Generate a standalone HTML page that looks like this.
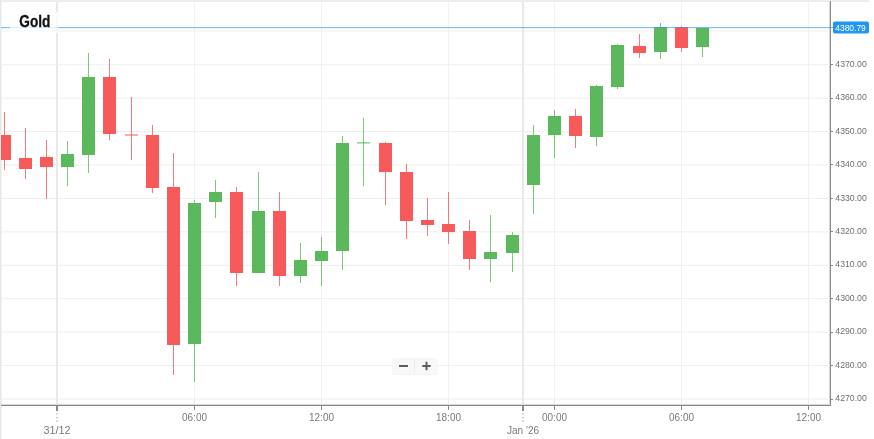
<!DOCTYPE html>
<html><head><meta charset="utf-8"><style>
html,body{margin:0;padding:0;background:#fff;width:874px;height:439px;overflow:hidden}
svg{display:block;font-family:"Liberation Sans", sans-serif}
text{filter:grayscale(1)}
</style></head><body>
<svg width="874" height="439" viewBox="0 0 874 439">
<rect x="0" y="0" width="874" height="439" fill="#fff"/>
<rect x="0" y="0" width="869" height="1" fill="#efefef"/>
<rect x="0" y="1" width="869" height="1" fill="#ececec"/>
<rect x="0" y="0" width="1" height="439" fill="#e8e8e8"/>
<rect x="1" y="2" width="1" height="437" fill="#f1f1f1"/>

<rect x="2" y="30.40" width="826.5" height="1" fill="#eeeeee"/>
<rect x="2" y="64.20" width="826.5" height="1" fill="#eeeeee"/>
<rect x="2" y="97.63" width="826.5" height="1" fill="#eeeeee"/>
<rect x="2" y="131.06" width="826.5" height="1" fill="#eeeeee"/>
<rect x="2" y="164.49" width="826.5" height="1" fill="#eeeeee"/>
<rect x="2" y="197.92" width="826.5" height="1" fill="#eeeeee"/>
<rect x="2" y="231.35" width="826.5" height="1" fill="#eeeeee"/>
<rect x="2" y="264.78" width="826.5" height="1" fill="#eeeeee"/>
<rect x="2" y="298.21" width="826.5" height="1" fill="#eeeeee"/>
<rect x="2" y="331.64" width="826.5" height="1" fill="#eeeeee"/>
<rect x="2" y="365.07" width="826.5" height="1" fill="#eeeeee"/>
<rect x="2" y="398.50" width="826.5" height="1" fill="#eeeeee"/>
<rect x="194" y="2" width="1" height="403" fill="#f1f1f1"/>
<rect x="321" y="2" width="1" height="403" fill="#f1f1f1"/>
<rect x="448" y="2" width="1" height="403" fill="#f1f1f1"/>
<rect x="554" y="2" width="1" height="403" fill="#f1f1f1"/>
<rect x="681" y="2" width="1" height="403" fill="#f1f1f1"/>
<rect x="808" y="2" width="1" height="403" fill="#f1f1f1"/>
<rect x="56" y="2" width="2" height="403" fill="#e9e9e9"/>
<rect x="522" y="2" width="2" height="403" fill="#e9e9e9"/>
<defs><clipPath id="pc"><rect x="1" y="2" width="829" height="403"/></clipPath></defs><g clip-path="url(#pc)">
<rect x="4" y="112" width="1" height="58" fill="#f65a5a" fill-opacity="0.8"/>
<rect x="-2" y="135" width="13" height="25" fill="#f65a5a"/>
<rect x="25" y="128" width="1" height="51" fill="#f65a5a" fill-opacity="0.8"/>
<rect x="19" y="158" width="13" height="11" fill="#f65a5a"/>
<rect x="46" y="140" width="1" height="59" fill="#f65a5a" fill-opacity="0.8"/>
<rect x="40" y="157" width="13" height="10" fill="#f65a5a"/>
<rect x="67" y="141" width="1" height="45" fill="#5cb85c" fill-opacity="0.8"/>
<rect x="61" y="154" width="13" height="13" fill="#5cb85c"/>
<rect x="88" y="53" width="1" height="120" fill="#5cb85c" fill-opacity="0.8"/>
<rect x="82" y="77" width="13" height="78" fill="#5cb85c"/>
<rect x="109" y="59" width="1" height="81" fill="#f65a5a" fill-opacity="0.8"/>
<rect x="103" y="77" width="13" height="57" fill="#f65a5a"/>
<rect x="131" y="97" width="1" height="63" fill="#f65a5a" fill-opacity="0.8"/>
<rect x="125" y="134.50" width="13" height="1" fill="#f65a5a"/>
<rect x="152" y="125" width="1" height="68" fill="#f65a5a" fill-opacity="0.8"/>
<rect x="146" y="135" width="13" height="53" fill="#f65a5a"/>
<rect x="173" y="153" width="1" height="222" fill="#f65a5a" fill-opacity="0.8"/>
<rect x="167" y="187" width="13" height="158" fill="#f65a5a"/>
<rect x="194" y="200" width="1" height="182" fill="#5cb85c" fill-opacity="0.8"/>
<rect x="188" y="203" width="13" height="141" fill="#5cb85c"/>
<rect x="215" y="180" width="1" height="38" fill="#5cb85c" fill-opacity="0.8"/>
<rect x="209" y="192" width="13" height="10" fill="#5cb85c"/>
<rect x="236" y="187" width="1" height="99" fill="#f65a5a" fill-opacity="0.8"/>
<rect x="230" y="192" width="13" height="81" fill="#f65a5a"/>
<rect x="258" y="172" width="1" height="101" fill="#5cb85c" fill-opacity="0.8"/>
<rect x="252" y="211" width="13" height="62" fill="#5cb85c"/>
<rect x="279" y="192" width="1" height="94" fill="#f65a5a" fill-opacity="0.8"/>
<rect x="273" y="211" width="13" height="65" fill="#f65a5a"/>
<rect x="300" y="243" width="1" height="40" fill="#5cb85c" fill-opacity="0.8"/>
<rect x="294" y="260" width="13" height="16" fill="#5cb85c"/>
<rect x="321" y="237" width="1" height="49" fill="#5cb85c" fill-opacity="0.8"/>
<rect x="315" y="251" width="13" height="10" fill="#5cb85c"/>
<rect x="342" y="136" width="1" height="134" fill="#5cb85c" fill-opacity="0.8"/>
<rect x="336" y="143" width="13" height="108" fill="#5cb85c"/>
<rect x="363" y="118" width="1" height="68" fill="#5cb85c" fill-opacity="0.8"/>
<rect x="357" y="142.40" width="13" height="1" fill="#5cb85c"/>
<rect x="385" y="142" width="1" height="63" fill="#f65a5a" fill-opacity="0.8"/>
<rect x="379" y="143" width="13" height="29" fill="#f65a5a"/>
<rect x="406" y="164" width="1" height="75" fill="#f65a5a" fill-opacity="0.8"/>
<rect x="400" y="172" width="13" height="49" fill="#f65a5a"/>
<rect x="427" y="198" width="1" height="38" fill="#f65a5a" fill-opacity="0.8"/>
<rect x="421" y="220" width="13" height="5" fill="#f65a5a"/>
<rect x="448" y="192" width="1" height="52" fill="#f65a5a" fill-opacity="0.8"/>
<rect x="442" y="224" width="13" height="8" fill="#f65a5a"/>
<rect x="469" y="220" width="1" height="50" fill="#f65a5a" fill-opacity="0.8"/>
<rect x="463" y="231" width="13" height="28" fill="#f65a5a"/>
<rect x="490" y="215" width="1" height="67" fill="#5cb85c" fill-opacity="0.8"/>
<rect x="484" y="252" width="13" height="7" fill="#5cb85c"/>
<rect x="512" y="232" width="1" height="40" fill="#5cb85c" fill-opacity="0.8"/>
<rect x="506" y="235" width="13" height="18" fill="#5cb85c"/>
<rect x="533" y="125" width="1" height="89" fill="#5cb85c" fill-opacity="0.8"/>
<rect x="527" y="135" width="13" height="50" fill="#5cb85c"/>
<rect x="554" y="110" width="1" height="48" fill="#5cb85c" fill-opacity="0.8"/>
<rect x="548" y="116" width="13" height="19" fill="#5cb85c"/>
<rect x="575" y="109" width="1" height="39" fill="#f65a5a" fill-opacity="0.8"/>
<rect x="569" y="116" width="13" height="20" fill="#f65a5a"/>
<rect x="596" y="85" width="1" height="61" fill="#5cb85c" fill-opacity="0.8"/>
<rect x="590" y="86" width="13" height="51" fill="#5cb85c"/>
<rect x="617" y="44" width="1" height="45" fill="#5cb85c" fill-opacity="0.8"/>
<rect x="611" y="45" width="13" height="42" fill="#5cb85c"/>
<rect x="639" y="34" width="1" height="24" fill="#f65a5a" fill-opacity="0.8"/>
<rect x="633" y="46" width="13" height="7" fill="#f65a5a"/>
<rect x="660" y="23" width="1" height="36" fill="#5cb85c" fill-opacity="0.8"/>
<rect x="654" y="27" width="13" height="25" fill="#5cb85c"/>
<rect x="681" y="26" width="1" height="26" fill="#f65a5a" fill-opacity="0.8"/>
<rect x="675" y="27" width="13" height="21" fill="#f65a5a"/>
<rect x="702" y="28" width="1" height="29" fill="#5cb85c" fill-opacity="0.8"/>
<rect x="696" y="28" width="13" height="19" fill="#5cb85c"/>
</g>
<rect x="829" y="2" width="1" height="403" fill="#d9d9d9"/>
<rect x="1" y="404" width="829" height="1" fill="#d9d9d9"/>
<rect x="830" y="1" width="1" height="405" fill="#8a8a8a"/>
<rect x="1" y="405" width="830" height="1" fill="#888"/>
<rect x="831" y="64" width="2" height="1" fill="#8a8a8a"/>
<text x="835.3" y="66.8" font-size="9.6" fill="#6f6f6f" textLength="31.5" lengthAdjust="spacingAndGlyphs">4370.00</text>
<rect x="831" y="98" width="2" height="1" fill="#8a8a8a"/>
<text x="835.3" y="100.2" font-size="9.6" fill="#6f6f6f" textLength="31.5" lengthAdjust="spacingAndGlyphs">4360.00</text>
<rect x="831" y="131" width="2" height="1" fill="#8a8a8a"/>
<text x="835.3" y="133.7" font-size="9.6" fill="#6f6f6f" textLength="31.5" lengthAdjust="spacingAndGlyphs">4350.00</text>
<rect x="831" y="164" width="2" height="1" fill="#8a8a8a"/>
<text x="835.3" y="167.1" font-size="9.6" fill="#6f6f6f" textLength="31.5" lengthAdjust="spacingAndGlyphs">4340.00</text>
<rect x="831" y="198" width="2" height="1" fill="#8a8a8a"/>
<text x="835.3" y="200.5" font-size="9.6" fill="#6f6f6f" textLength="31.5" lengthAdjust="spacingAndGlyphs">4330.00</text>
<rect x="831" y="231" width="2" height="1" fill="#8a8a8a"/>
<text x="835.3" y="234.0" font-size="9.6" fill="#6f6f6f" textLength="31.5" lengthAdjust="spacingAndGlyphs">4320.00</text>
<rect x="831" y="265" width="2" height="1" fill="#8a8a8a"/>
<text x="835.3" y="267.4" font-size="9.6" fill="#6f6f6f" textLength="31.5" lengthAdjust="spacingAndGlyphs">4310.00</text>
<rect x="831" y="298" width="2" height="1" fill="#8a8a8a"/>
<text x="835.3" y="300.8" font-size="9.6" fill="#6f6f6f" textLength="31.5" lengthAdjust="spacingAndGlyphs">4300.00</text>
<rect x="831" y="332" width="2" height="1" fill="#8a8a8a"/>
<text x="835.3" y="334.2" font-size="9.6" fill="#6f6f6f" textLength="31.5" lengthAdjust="spacingAndGlyphs">4290.00</text>
<rect x="831" y="365" width="2" height="1" fill="#8a8a8a"/>
<text x="835.3" y="367.7" font-size="9.6" fill="#6f6f6f" textLength="31.5" lengthAdjust="spacingAndGlyphs">4280.00</text>
<rect x="831" y="399" width="2" height="1" fill="#8a8a8a"/>
<text x="835.3" y="401.1" font-size="9.6" fill="#6f6f6f" textLength="31.5" lengthAdjust="spacingAndGlyphs">4270.00</text>
<rect x="194" y="406" width="1" height="4" fill="#8a8a8a"/>
<text x="194.5" y="420.5" font-size="10" fill="#7a7a7a" text-anchor="middle">06:00</text>
<rect x="321" y="406" width="1" height="4" fill="#8a8a8a"/>
<text x="321.5" y="420.5" font-size="10" fill="#7a7a7a" text-anchor="middle">12:00</text>
<rect x="448" y="406" width="1" height="4" fill="#8a8a8a"/>
<text x="448.5" y="420.5" font-size="10" fill="#7a7a7a" text-anchor="middle">18:00</text>
<rect x="554" y="406" width="1" height="4" fill="#8a8a8a"/>
<text x="554.5" y="420.5" font-size="10" fill="#7a7a7a" text-anchor="middle">00:00</text>
<rect x="681" y="406" width="1" height="4" fill="#8a8a8a"/>
<text x="681.5" y="420.5" font-size="10" fill="#7a7a7a" text-anchor="middle">06:00</text>
<rect x="808" y="406" width="1" height="4" fill="#8a8a8a"/>
<text x="808.5" y="420.5" font-size="10" fill="#7a7a7a" text-anchor="middle">12:00</text>
<rect x="56" y="406" width="2" height="5" fill="#8a8a8a"/>
<rect x="56.2" y="413.3" width="1.6" height="1.2" fill="#bdbdbd"/>
<rect x="56.2" y="416.9" width="1.6" height="1.2" fill="#bdbdbd"/>
<rect x="56.2" y="420.5" width="1.6" height="1.2" fill="#bdbdbd"/>
<text x="57" y="434" font-size="10" fill="#7a7a7a" text-anchor="middle" textLength="27" lengthAdjust="spacingAndGlyphs">31/12</text>
<rect x="522" y="406" width="2" height="5" fill="#8a8a8a"/>
<rect x="522.2" y="413.3" width="1.6" height="1.2" fill="#bdbdbd"/>
<rect x="522.2" y="416.9" width="1.6" height="1.2" fill="#bdbdbd"/>
<rect x="522.2" y="420.5" width="1.6" height="1.2" fill="#bdbdbd"/>
<text x="523" y="434" font-size="10" fill="#7a7a7a" text-anchor="middle">Jan &#8217;26</text>
<rect x="1" y="27" width="833" height="1" fill="#2196f3" fill-opacity="0.6"/>
<rect x="1" y="28" width="829" height="1" fill="#2196f3" fill-opacity="0.1"/>
<rect x="833" y="21.5" width="36" height="12" rx="2" fill="#2196f3"/>
<text x="835.3" y="30.5" font-size="9.2" fill="#fff" textLength="30.5" lengthAdjust="spacingAndGlyphs">4380.79</text>
<rect x="10" y="12" width="48.5" height="21" fill="#fff" fill-opacity="0.72"/>
<text x="19.3" y="26.8" font-size="17" font-weight="bold" fill="#111" stroke="#111" stroke-width="0.35" textLength="31" lengthAdjust="spacingAndGlyphs">Gold</text>
<g>
<rect x="392" y="359" width="45.5" height="16" rx="3" fill="#000" fill-opacity="0.05"/>
<rect x="392" y="358" width="45.5" height="16" rx="3" fill="#f8f8f8"/>
<rect x="414" y="359" width="1" height="14" fill="#ececec"/>
<rect x="399" y="365" width="9" height="2" fill="#5e5e5e"/>
<rect x="422.3" y="365" width="8.4" height="2" fill="#5e5e5e"/>
<rect x="425.5" y="361.8" width="2" height="8.4" fill="#5e5e5e"/>
</g>
</svg></body></html>
